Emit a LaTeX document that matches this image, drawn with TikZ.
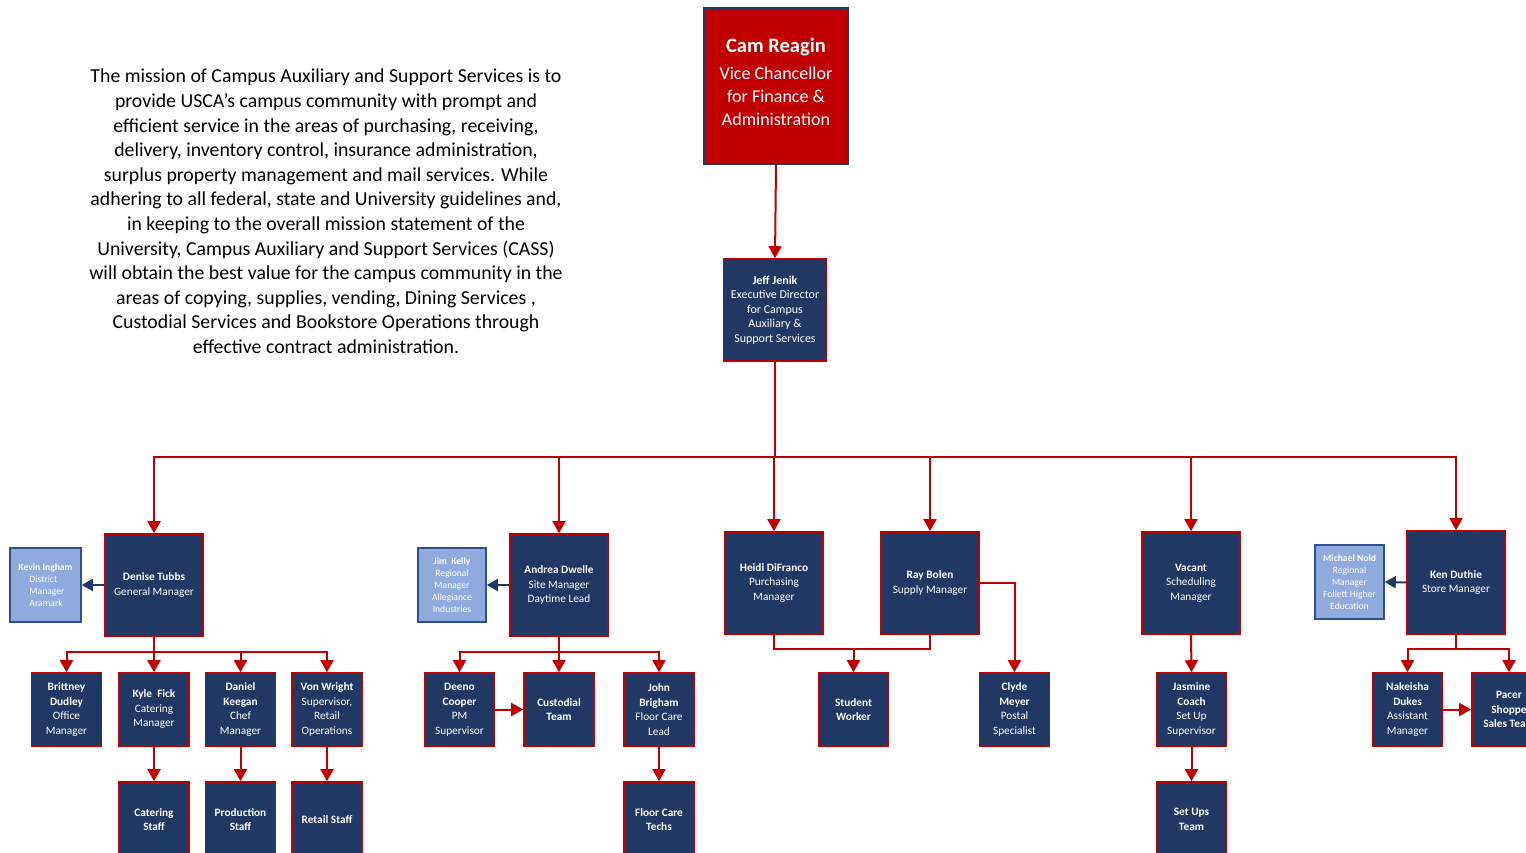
\documentclass[tikz,border=0pt]{standalone}
\usepackage{fontspec}
\setmainfont{Carlito}
\usetikzlibrary{arrows.meta}
\definecolor{navy}{HTML}{1F3864}
\definecolor{cred}{HTML}{C00000}
\definecolor{lblue}{HTML}{8FAADC}
\definecolor{lbord}{HTML}{2F4F8F}
\tikzset{
  box/.style={draw=cred, fill=navy, line width=1.6pt, text=white, align=center, inner sep=0pt,
     font=\fontsize{11.3}{14.5}\selectfont},
  small/.style={box, minimum width=70pt, minimum height=73pt},
  mid/.style={box, minimum width=98pt, minimum height=102pt},
  low/.style={box, minimum width=70pt, minimum height=75pt},
  ext/.style={draw=lbord, fill=lblue, line width=1.6pt, text=white, align=center, inner sep=0pt,
     font=\fontsize{9.6}{12}\selectfont},
  arr/.style={draw=cred, line width=2pt, -{Triangle[width=13pt,length=12pt]}},
  narr/.style={draw=navy, line width=2pt, -{Triangle[width=12pt,length=11pt]}},
  ln/.style={draw=cred, line width=2pt},
}
\begin{document}
\begin{tikzpicture}[x=1pt,y=-1pt]
\useasboundingbox[fill=white] (0,0) rectangle (1526,853);

% mission text
\node[align=center, font=\fontsize{19.8}{24.6}\selectfont, inner sep=0pt] (mission) at (326,211.5) {The mission of Campus Auxiliary and Support Services is to\\
provide USCA’s campus community with prompt and\\
efficient service in the areas of purchasing, receiving,\\
delivery, inventory control, insurance administration,\\
surplus property management and mail services. While\\
adhering to all federal, state and University guidelines and,\\
in keeping to the overall mission statement of the\\
University, Campus Auxiliary and Support Services (CASS)\\
will obtain the best value for the campus community in the\\
areas of copying, supplies, vending, Dining Services ,\\
Custodial Services and Bookstore Operations through\\
effective contract administration.};

% top
\node[draw=navy, fill=cred, line width=1.6pt, inner sep=0pt,
  minimum width=144pt, minimum height=156pt] (cam) at (776,86) {};
\node[text=white, align=center, inner sep=0pt, font=\fontsize{18}{23}\selectfont] (camtxt) at (776,82)
  {{\fontsize{20.5}{24}\selectfont\bfseries Cam Reagin}\\[4pt]Vice Chancellor\\for Finance \&\\Administration};
\node[box, minimum width=103pt, minimum height=102pt, font=\fontsize{12}{14.5}\selectfont] (jeff) at (775,310)
  {\textbf{Jeff Jenik}\\Executive Director\\for Campus\\Auxiliary \&\\Support Services};
\draw[arr] (cam.south) -- (jeff.north);

% level 2
\node[mid] (denise) at (154,585) {\textbf{Denise Tubbs}\\General Manager};
\node[mid] (andrea) at (559,585) {\textbf{Andrea Dwelle}\\Site Manager\\Daytime Lead};
\node[mid] (heidi) at (774,583) {\textbf{Heidi DiFranco}\\Purchasing\\Manager};
\node[mid] (ray) at (930,583) {\textbf{Ray Bolen}\\Supply Manager};
\node[mid] (vacant) at (1191,583) {\textbf{Vacant}\\Scheduling\\Manager};
\node[mid, minimum height=103pt] (ken) at (1456,582.5) {\textbf{Ken Duthie}\\Store Manager};

\node[ext, minimum width=71pt, minimum height=74pt, align=left] (kevin) at (45.5,585)
  {\textbf{Kevin Ingham}\\\hspace*{11pt}District\\\hspace*{11pt}Manager\\\hspace*{11pt}Aramark};
\node[ext, minimum width=68pt, minimum height=74pt] (jim) at (452,585)
  {\textbf{Jim\ \ Kelly}\\Regional\\Manager\\Allegiance\\Industries};
\node[ext, minimum width=69pt, minimum height=74pt] (michael) at (1349.5,582)
  {\textbf{Michael Nold}\\Regional\\Manager\\Follett Higher\\Education};

\foreach \n in {denise,andrea,heidi,ray,vacant,ken}
  \draw[arr] (jeff.south) -- ++(0,95.5) -| (\n.north);

\draw[narr] (denise.west) -- (kevin.east);
\draw[narr] (andrea.west) -- (jim.east);
\draw[narr] (ken.west) -- (michael.east);

% level 3
\node[small] (brittney) at (66.5,709.5) {\textbf{Brittney}\\\textbf{Dudley}\\Office\\Manager};
\node[small] (kyle) at (154,709.5) {\textbf{Kyle\ \ Fick}\\Catering\\Manager};
\node[small] (daniel) at (240.5,709.5) {\textbf{Daniel}\\\textbf{Keegan}\\Chef\\Manager};
\node[small] (von) at (327,709.5) {\textbf{Von Wright}\\Supervisor,\\Retail\\Operations};
\node[small] (deeno) at (459.5,709.5) {\textbf{Deeno}\\\textbf{Cooper}\\PM\\Supervisor};
\node[small] (custodial) at (559,709.5) {\textbf{Custodial}\\\textbf{Team}};
\node[small] (john) at (659,709.5) {\textbf{John}\\\textbf{Brigham}\\Floor Care\\Lead};
\node[small] (student) at (853.5,709.5) {\textbf{Student}\\\textbf{Worker}};
\node[small] (clyde) at (1014.5,709.5) {\textbf{Clyde}\\\textbf{Meyer}\\Postal\\Specialist};
\node[small] (jasmine) at (1191.5,709.5) {\textbf{Jasmine}\\\textbf{Coach}\\Set Up\\Supervisor};
\node[small] (nakeisha) at (1407.5,709.5) {\textbf{Nakeisha}\\\textbf{Dukes}\\Assistant\\Manager};
\node[small, minimum width=74pt] (pacer) at (1509,709.5) {\textbf{Pacer}\\\textbf{Shoppe}\\\textbf{Sales Team}};

\foreach \n in {brittney,kyle,daniel,von}
  \draw[arr] (denise.south) -- ++(0,15) -| (\n.north);
\foreach \n in {deeno,custodial,john}
  \draw[arr] (andrea.south) -- ++(0,15) -| (\n.north);
\draw[ln] (heidi.south) -- ++(0,14) -| (ray.south);
\coordinate (sw) at (853.5,648);
\draw[arr] (sw) -- (student.north);
\draw[arr] (ray.east) -| (clyde.north);
\draw[arr] (vacant.south) -- (jasmine.north);
\foreach \n in {nakeisha,pacer}
  \draw[arr] (ken.south) -- ++(0,14) -| (\n.north);
\draw[arr] (deeno.east) -- (custodial.west);
\draw[arr] (nakeisha.east) -- (pacer.west);

% level 4
\node[low] (catstaff) at (154,819.5) {\textbf{Catering}\\\textbf{Staff}};
\node[low] (prodstaff) at (240.5,819.5) {\textbf{Production}\\\textbf{Staff}};
\node[low] (retstaff) at (327,819.5) {\textbf{Retail Staff}};
\node[low] (techs) at (659,819.5) {\textbf{Floor Care}\\\textbf{Techs}};
\node[low] (setups) at (1191.5,819.5) {\textbf{Set Ups}\\\textbf{Team}};
\draw[arr] (kyle.south) -- (catstaff.north);
\draw[arr] (daniel.south) -- (prodstaff.north);
\draw[arr] (von.south) -- (retstaff.north);
\draw[arr] (john.south) -- (techs.north);
\draw[arr] (jasmine.south) -- (setups.north);
\end{tikzpicture}
\end{document}
